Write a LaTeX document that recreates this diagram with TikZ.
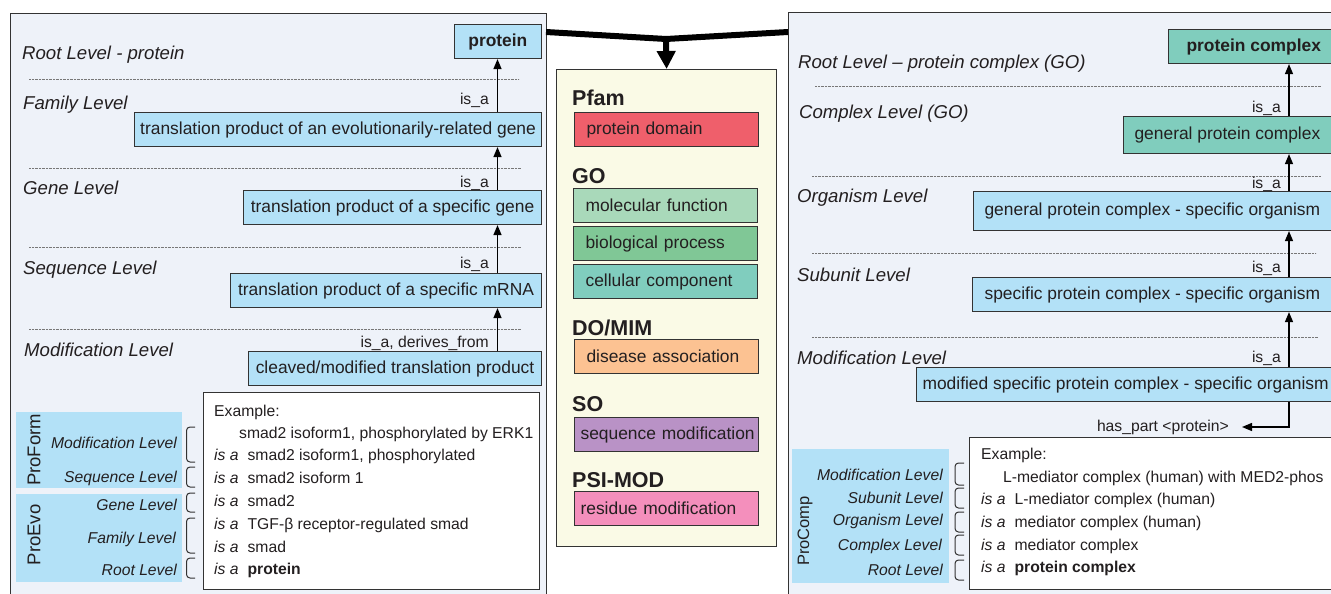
\documentclass[tikz,border=0pt]{standalone}
\usepackage{fontspec}
\setmainfont{Liberation Sans}
\usetikzlibrary{arrows.meta}
\definecolor{panelbg}{HTML}{EEF2F9}
\definecolor{lblue}{HTML}{B3E1F7}
\definecolor{cteal}{HTML}{80CDBD}
\definecolor{midbg}{HTML}{FAFAE6}
\definecolor{cred}{HTML}{EF5F6B}
\definecolor{cmf}{HTML}{A9D9BA}
\definecolor{cbp}{HTML}{80C796}
\definecolor{ccc}{HTML}{80CDBE}
\definecolor{cdis}{HTML}{FCC292}
\definecolor{cso}{HTML}{B992C6}
\definecolor{cpsi}{HTML}{F48FBC}
\definecolor{lineC}{HTML}{333333}
\definecolor{txtC}{HTML}{231F20}
\definecolor{dotC}{HTML}{777777}
\newcommand{\fsB}{\fontsize{17.4pt}{20pt}\selectfont}
\newcommand{\fsL}{\fontsize{18.6pt}{22pt}\selectfont}
\newcommand{\fsS}{\fontsize{15.7pt}{19pt}\selectfont}
\newcommand{\fsH}{\fontsize{21.5pt}{25pt}\selectfont}
\newcommand{\fsR}{\fontsize{18.5pt}{22pt}\selectfont}
\newcommand{\fsRc}{\fontsize{16.5pt}{20pt}\selectfont}
\begin{document}
\begin{tikzpicture}[x=1pt,y=-1pt, every node/.style={text=txtC},
 panel/.style={draw=lineC, line width=1.2pt, fill=panelbg, anchor=north west, inner sep=0pt},
 bx/.style={draw=lineC, line width=1.1pt, anchor=north west, inner sep=0pt, minimum height=34pt, font=\fsB},
 rbx/.style={draw=lineC, line width=1.1pt, anchor=north west, inner ysep=0pt, minimum height=34pt, font=\fsB},
 mbx/.style={draw=lineC, line width=1.1pt, anchor=north west, inner ysep=0pt, inner xsep=12pt, minimum width=184pt, text width=160pt, align=left, minimum height=34pt, font=\fsB},
 mbxw/.style={mbx, inner xsep=6pt, text width=172pt},
 lvl/.style={anchor=base west, inner sep=0pt, font=\fsL\itshape},
 lvls/.style={anchor=base east, inner sep=0pt, font=\fsS\itshape},
 isa/.style={anchor=base east, inner sep=0pt, font=\fsS},
 exl/.style={anchor=base west, inner sep=0pt, font=\fsS},
 hdg/.style={anchor=base west, inner sep=0pt, font=\fsH\bfseries},
 dotline/.style={draw=dotC, line width=0.5pt, dash pattern=on 0.7pt off 0.7pt},
 arr/.style={draw=black, line width=1.4pt, -{Triangle[width=8pt,length=10pt]}},
 fat/.style={draw=black, line width=6pt},
 brk/.style={draw=lineC, line width=1pt, rounded corners=3.5pt},
 prorect/.style={fill=lblue, anchor=north west, inner sep=0pt},
 protxt/.style={rotate=90, inner sep=0pt, font=\fsR},
 exbox/.style={draw=lineC, line width=1.1pt, fill=white, anchor=north west, inner sep=0pt}
]
\useasboundingbox (0,0) rectangle (1331,594);
\clip (0,0) rectangle (1331,594);
\fill[white] (0,0) rectangle (1331,594);

% panels
\node[panel, minimum width=536pt, minimum height=620pt] (lp) at (10,13) {};
\node[panel, minimum width=600pt, minimum height=620pt] (rp) at (788,12) {};
\node[panel, fill=midbg, minimum width=220pt, minimum height=477pt] (mp) at (556,69) {};

% top connector
\coordinate (jl) at (546,32);
\coordinate (jr) at (788,32);
\coordinate (jn) at (666,39);
\draw[fat, line join=miter] (jl) -- (jn) -- (jr);
\draw[fat, -{Triangle[width=18pt,length=18pt]}] (jn) -- (mp.north);

% ---------- left panel ----------
\node[lvl] (lL0) at (22,59.5) {Root Level - protein};
\node[lvl] (lL1) at (23,109.5) {Family Level};
\node[lvl] (lL2) at (23,194.5) {Gene Level};
\node[lvl] (lL3) at (23,274.5) {Sequence Level};
\node[lvl] (lL4) at (24,356.5) {Modification Level};

\draw[dotline] (29,79) -- (519,79);
\draw[dotline] (29,168) -- (521,168);
\draw[dotline] (29,247) -- (521,247);
\draw[dotline] (29,329) -- (521,329);

\node[bx, fill=lblue, minimum width=87.4pt] (lb0) at (453.6,24) {\bfseries protein};
\node[bx, fill=lblue, minimum width=407pt] (lb1) at (134,112) {translation product of an evolutionarily-related gene};
\node[bx, fill=lblue, minimum width=298pt] (lb2) at (243,190) {translation product of a specific gene};
\node[bx, fill=lblue, minimum width=311pt] (lb3) at (230,273) {translation product of a specific mRNA};
\node[bx, fill=lblue, minimum width=293pt] (lb4) at (248,351) {cleaved/modified translation product};

\coordinate (lx) at (497.5,0);
\draw[arr] (lb1.north -| lx) -- (lb0.south -| lx);
\draw[arr] (lb2.north -| lx) -- (lb1.south -| lx);
\draw[arr] (lb3.north -| lx) -- (lb2.south -| lx);
\draw[arr] (lb4.north -| lx) -- (lb3.south -| lx);

\node[isa] (li1) at (489,104) {is\_a};
\node[isa] (li2) at (489,187) {is\_a};
\node[isa] (li3) at (489,268) {is\_a};
\node[isa] (li4) at (489,347) {is\_a, derives\_from};

\node[exbox, minimum width=336.5pt, minimum height=197pt] (lex) at (202.5,392) {};
\node[prorect, minimum width=166pt, minimum height=76pt] (pf) at (16,412) {};
\node[prorect, minimum width=166pt, minimum height=88pt] (pe) at (16,494) {};
\node[protxt] (pft) at (34,450) {ProForm};
\node[protxt] (pet) at (34,535) {ProEvo};

\node[lvls] (ls1) at (177,448.6) {Modification Level};
\node[lvls] (ls2) at (177,482.6) {Sequence Level};
\node[lvls] (ls3) at (177,510.6) {Gene Level};
\node[lvls] (ls4) at (176,543.6) {Family Level};
\node[lvls] (ls5) at (177,575.6) {Root Level};

\draw[brk] (195,427) -- (186.5,427) -- (186.5,462) -- (195,462);
\draw[brk] (195,467) -- (186.5,467) -- (186.5,487) -- (195,487);
\draw[brk] (195,493) -- (186.5,493) -- (186.5,512) -- (195,512);
\draw[brk] (195,518) -- (186.5,518) -- (186.5,553) -- (195,553);
\draw[brk] (195,558) -- (186.5,558) -- (186.5,578) -- (195,578);

\node[exl] (le0) at (214,416) {Example:};
\node[exl] (le1) at (239,438) {smad2 isoform1, phosphorylated by ERK1};
\node[exl] (le2) at (214,460) {\textit{is a}\hspace{9pt}smad2 isoform1, phosphorylated};
\node[exl] (le3) at (214,483) {\textit{is a}\hspace{9pt}smad2 isoform 1};
\node[exl] (le4) at (214,506) {\textit{is a}\hspace{9pt}smad2};
\node[exl] (le5) at (214,529) {\textit{is a}\hspace{9pt}TGF-β receptor-regulated smad};
\node[exl] (le6) at (214,552) {\textit{is a}\hspace{9pt}smad};
\node[exl] (le7) at (214,574) {\textit{is a}\hspace{9pt}\textbf{protein}};

% ---------- middle panel ----------
\node[hdg] (hPfam) at (572,106) {Pfam};
\node[mbx, fill=cred] (mPfam) at (574,112) {protein domain};
\node[hdg] (hGO) at (572,183) {GO};
\node[mbx, fill=cmf] (mMF) at (573,188) {molecular function};
\node[mbx, fill=cbp] (mBP) at (573,226) {biological process};
\node[mbx, fill=ccc] (mCC) at (573,264) {cellular component};
\node[hdg] (hDO) at (572,335) {DO/MIM};
\node[mbx, fill=cdis] (mDO) at (574,339) {disease association};
\node[hdg] (hSO) at (572,411) {SO};
\node[mbxw, fill=cso] (mSO) at (574,417) {\mbox{sequence modification}};
\node[hdg] (hPSI) at (572,487) {PSI-MOD};
\node[mbxw, fill=cpsi] (mPSI) at (574,491) {\mbox{residue modification}};

% ---------- right panel ----------
\node[lvl] (rL0) at (798,68.5) {Root Level – protein complex (GO)};
\node[lvl] (rL1) at (799,118.5) {Complex Level (GO)};
\node[lvl] (rL2) at (797,202.5) {Organism Level};
\node[lvl] (rL3) at (797,281.5) {Subunit Level};
\node[lvl] (rL4) at (797,364.5) {Modification Level};

\draw[dotline] (815,86) -- (1321,86);
\draw[dotline] (812,176) -- (1321,176);
\draw[dotline] (812,253) -- (1316,253);
\draw[dotline] (812,337) -- (1318,337);

\node[rbx, fill=cteal, inner xsep=18pt] (rb0) at (1168,29) {\bfseries protein complex\rule{30pt}{0pt}};
\node[rbx, fill=cteal, inner xsep=11pt, minimum height=37pt] (rb1) at (1123,116) {general protein complex\rule{30pt}{0pt}};
\node[rbx, fill=lblue, inner xsep=11pt, minimum height=39pt] (rb2) at (973,191) {general protein complex - specific organism\rule{30pt}{0pt}};
\node[rbx, fill=lblue, inner xsep=12pt] (rb3) at (972,277) {specific protein complex - specific organism\rule{30pt}{0pt}};
\node[rbx, fill=lblue, inner xsep=6pt] (rb4) at (916,367) {modified specific protein complex - specific organism\rule{30pt}{0pt}};

\coordinate (rx) at (1289,0);
\draw[arr] (rb1.north -| rx) -- (rb0.south -| rx);
\draw[arr] (rb2.north -| rx) -- (rb1.south -| rx);
\draw[arr] (rb3.north -| rx) -- (rb2.south -| rx);
\draw[arr] (rb4.north -| rx) -- (rb3.south -| rx);

\node[isa] (ri1) at (1281,112) {is\_a};
\node[isa] (ri2) at (1281,188) {is\_a};
\node[isa] (ri3) at (1281,272) {is\_a};
\node[isa] (ri4) at (1281,362) {is\_a};

\node[anchor=east, inner xsep=13pt, inner ysep=0pt, font=\fsS] (hp) at (1242,427) {has\_part <protein>};
\draw[arr] (rb4.south -| rx) |- (hp.east);

\node[exbox, minimum width=380pt, minimum height=152pt] (rex) at (969,437) {};
\node[prorect, minimum width=157pt, minimum height=134pt] (pc) at (792,449) {};
\node[protxt, font=\fsRc] (pct) at (805,531) {ProComp};

\node[lvls] (rs1) at (943,480.6) {Modification Level};
\node[lvls] (rs2) at (943,503.6) {Subunit Level};
\node[lvls] (rs3) at (943,525.6) {Organism Level};
\node[lvls] (rs4) at (942,550.6) {Complex Level};
\node[lvls] (rs5) at (943,575.6) {Root Level};

\draw[brk] (964,463) -- (955,463) -- (955,485) -- (964,485);
\draw[brk] (964,488) -- (955,488) -- (955,508) -- (964,508);
\draw[brk] (964,512) -- (955,512) -- (955,532) -- (964,532);
\draw[brk] (964,535) -- (955,535) -- (955,555) -- (964,555);
\draw[brk] (964,560) -- (955,560) -- (955,580) -- (964,580);

\node[exl] (re0) at (981,459.6) {Example:};
\node[exl] (re1) at (1003,482.6) {L-mediator complex (human) with MED2-phos};
\node[exl] (re2) at (981,504.6) {\textit{is a}\hspace{9pt}L-mediator complex (human)};
\node[exl] (re3) at (981,527.6) {\textit{is a}\hspace{9pt}mediator complex (human)};
\node[exl] (re4) at (981,550.6) {\textit{is a}\hspace{9pt}mediator complex};
\node[exl] (re5) at (981,572.6) {\textit{is a}\hspace{9pt}\textbf{protein complex}};
\end{tikzpicture}
\end{document}
